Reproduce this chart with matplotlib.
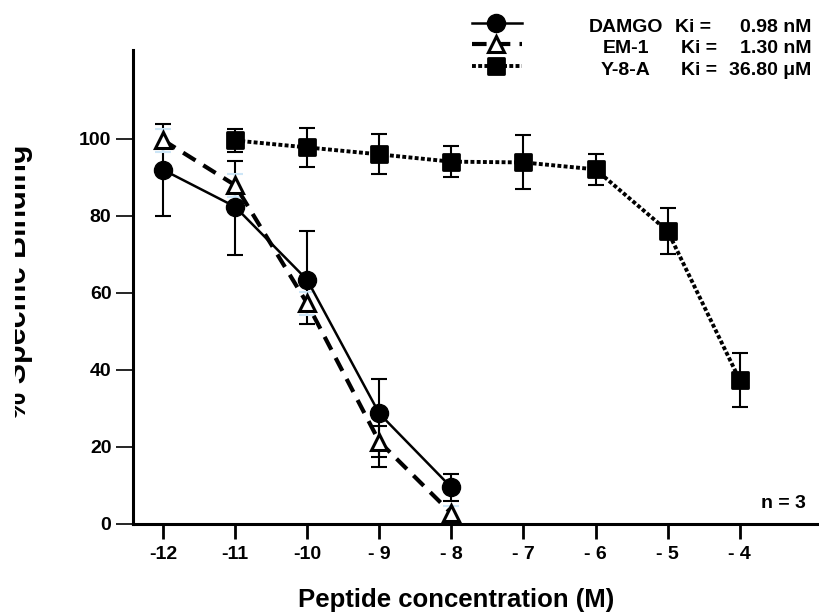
import matplotlib
matplotlib.use("Agg")
import matplotlib.pyplot as plt
from matplotlib.lines import Line2D
from matplotlib.markers import MarkerStyle
from matplotlib.patches import Rectangle

# data
conc = [-12, -11, -10, -9, -8]
damgo = [92.0, 82.4, 63.4, 28.7, 9.5]
damgo_err_lo = [12.0, 12.5, 11.5, 13.8, 3.4]
damgo_err_hi = [12.0, 12.0, 12.7, 9.0, 3.4]

em1 = [99.7, 88.0, 57.3, 21.4, 2.8]
em1_err = [3.0, 3.0, 3.0, 4.0, 2.0]

y8a_conc = [-11, -10, -9, -8, -7, -6, -5, -4]
y8a = [99.6, 97.8, 96.0, 94.1, 93.9, 92.1, 76.1, 37.4]
y8a_err = [3.0, 5.0, 5.2, 4.0, 7.0, 4.0, 6.0, 7.0]

xticks = [-12, -11, -10, -9, -8, -7, -6, -5, -4]
xticklabels = ["-12", "-11", "-10", "- 9", "- 8", "- 7", "- 6", "- 5", "- 4"]
yticks = [0, 20, 40, 60, 80, 100]

legend_names = ["DAMGO", "EM-1", "Y-8-A"]
legend_ki = ["Ki =", "Ki =", "Ki ="]
legend_vals = ["0.98 nM", "1.30 nM", "36.80 \u03bcM"]

plt.rcParams.update({
    "font.family": ["Liberation Sans", "DejaVu Sans"],
    "font.weight": "bold",
    "font.size": 14,
})

W, H = 819, 613
LIGHT = "#cde6f7"


def fx(x):
    return x / W


def fy(y):
    return 1 - y / H


fig = plt.figure(figsize=(W / 100, H / 100), dpi=100)
ax = fig.add_axes([fx(133), fy(524), (W - 133) / W, (524 - 50) / H])

ax.set_xlim(-12.416, -2.90)
ax.set_ylim(0, 123.1)

for s in ["top", "right"]:
    ax.spines[s].set_visible(False)
for s in ["left", "bottom"]:
    ax.spines[s].set_linewidth(2.2)

# error bars
ax.errorbar(conc, damgo, yerr=[damgo_err_lo, damgo_err_hi], fmt="none",
            ecolor="black", elinewidth=1.5, capsize=6, capthick=1.5, zorder=2)
em1_ecol = [LIGHT, LIGHT, LIGHT, "black", LIGHT]
for xi, yi, ei, ci in zip(conc, em1, em1_err, em1_ecol):
    ax.errorbar(xi, yi, yerr=ei, fmt="none", ecolor=ci, elinewidth=1.5,
                capsize=6, capthick=1.5, zorder=2)
ax.errorbar(y8a_conc, y8a, yerr=y8a_err, fmt="none", ecolor="black",
            elinewidth=1.5, capsize=6, capthick=1.5, zorder=2)

sq = MarkerStyle("s", joinstyle="round")

ax.plot(y8a_conc, y8a, color="black", lw=2.8, ls=(0, (1, 0.6)),
        marker=sq, ms=11, mfc="black", mec="black", mew=2, zorder=3)
ax.plot(conc, em1, color="black", lw=3, ls=(0, (3.5, 2.2)),
        marker="^", ms=12, mfc="white", mec="black", mew=2.2, zorder=4)
ax.plot(conc, damgo, color="black", lw=1.8, marker="o", ms=13, zorder=5)

# ticks
ax.set_xticks(xticks)
ax.set_xticklabels(xticklabels)
ax.set_yticks(yticks)
ax.tick_params(axis="x", length=11, width=2, pad=5, labelsize=14)
ax.tick_params(axis="y", length=12, width=1.2, pad=3.5, labelsize=14)
xcols = ["black", "black"] + [LIGHT] * 7
for t, c in zip(ax.xaxis.get_major_ticks(), xcols):
    t.tick1line.set_color(c)
ycols = [LIGHT, "#222222", "#222222", "black", "black", "black"]
for t, c in zip(ax.yaxis.get_major_ticks(), ycols):
    t.tick1line.set_color(c)

# axis labels
fig.text(fx(456), fy(607), "Peptide concentration (M)", ha="center",
         va="baseline", fontsize=18.5, fontweight="bold")
fig.text(fx(18), fy(282), "% Specific Binding", rotation=90, ha="center",
         va="center", fontsize=22, fontweight="bold", zorder=5)
fig.add_artist(Rectangle((0, 0), fx(15), 1, transform=fig.transFigure,
                         facecolor="white", edgecolor="none", zorder=10))

fig.text(fx(806), fy(508), "n = 3", ha="right", va="baseline", fontsize=14,
         fontweight="bold")

# legend block
rows_y = [22.7, 44.0, 65.7]
base_y = [31.7, 53.3, 75.2]
styles = [
    dict(ls="-", lw=1.8, marker="o", ms=13, mfc="black", mew=1),
    dict(ls=(0, (3.5, 2.2)), lw=3, marker="^", ms=12, mfc="white", mew=2.2),
    dict(ls=(0, (1, 0.6)), lw=2.8, marker=sq, ms=11, mfc="black", mew=2),
]
for ry, st in zip(rows_y, styles):
    marker = st.pop("marker")
    ms = st.pop("ms")
    mfc = st.pop("mfc")
    mew = st.pop("mew")
    fig.add_artist(Line2D([fx(472), fx(522)], [fy(ry), fy(ry)], color="black",
                          transform=fig.transFigure, **st))
    fig.add_artist(Line2D([fx(496)], [fy(ry)], color="black", ls="none",
                          marker=marker, ms=ms, mfc=mfc, mec="black", mew=mew,
                          transform=fig.transFigure))

ki_x = [675, 681, 681]
for by, name, ki, val, kx in zip(base_y, legend_names, legend_ki, legend_vals, ki_x):
    fig.text(fx(626), fy(by), name, ha="center", va="baseline", fontsize=14)
    fig.text(fx(kx), fy(by), ki, ha="left", va="baseline", fontsize=14)
    fig.text(fx(811), fy(by), val, ha="right", va="baseline", fontsize=14)

fig.savefig("out.png", dpi=100)
